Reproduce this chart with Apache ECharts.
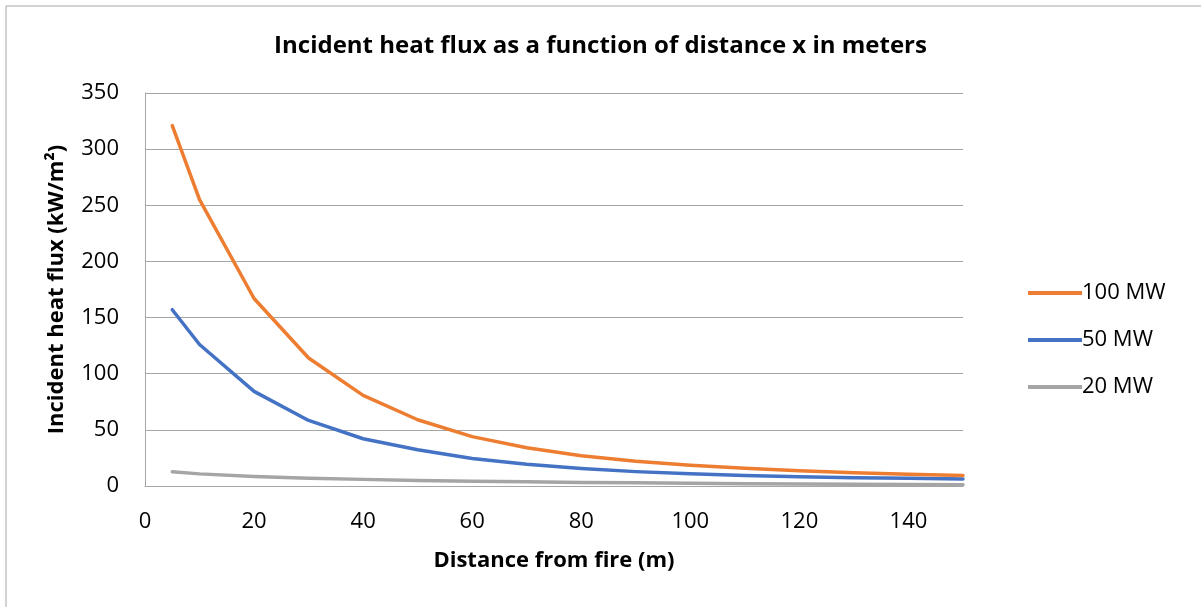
<!DOCTYPE html>
<html>
<head>
<meta charset="utf-8">
<script src="https://cdn.jsdelivr.net/npm/echarts@6/dist/echarts.min.js"></script>
<style>
html,body{margin:0;padding:0;background:#fff;}
#chart{width:1201px;height:607px;}
</style>
</head>
<body>
<div id="chart"></div>
<script>
var distances = [5, 10, 20, 30, 40, 50, 60, 70, 80, 90, 100, 110, 120, 130, 140, 150];
var flux100 = [321, 255, 167, 114, 80.7, 59, 44, 34, 27, 22, 18.4, 15.7, 13.6, 11.8, 10.4, 9.4];
var flux50 = [157, 126, 84.3, 58.4, 42.1, 32.3, 24.5, 19.3, 15.6, 12.8, 10.8, 9.3, 8.3, 7.4, 6.8, 6.2];
var flux20 = [12.6, 10.8, 8.5, 7.0, 5.9, 5.0, 4.3, 3.7, 3.2, 2.8, 2.4, 2.1, 1.8, 1.6, 1.4, 1.2];
var seriesNames = ['100 MW', '50 MW', '20 MW'];
var yTicks = [0, 50, 100, 150, 200, 250, 300, 350];
var xTicks = [0, 20, 40, 60, 80, 100, 120, 140];

function pairs(vals) { return distances.map(function (d, i) { return [d, vals[i]]; }); }

var font = '"Open Sans", "Noto Sans", sans-serif';
var chart = echarts.init(document.getElementById('chart'), null, {renderer: 'canvas'});
var colors = ['#ED7D31', '#4472C4', '#A5A5A5'];
var data = [flux100, flux50, flux20];

chart.setOption({
  animation: false,
  backgroundColor: '#ffffff',
  graphic: [{
    type: 'rect', left: 3.5, top: 3.5,
    shape: {width: 1300, height: 700},
    style: {fill: 'none', stroke: '#a6a6a6', lineWidth: 1}, silent: true
  }],
  title: {
    text: 'Incident heat flux as a function of distance x in meters',
    left: 'center', top: 29,
    textStyle: {fontFamily: font, fontWeight: 'bold', fontSize: 24, color: '#000'}
  },
  legend: {
    orient: 'vertical', left: 1023, top: 277, itemGap: 25,
    itemWidth: 54, itemHeight: 4,
    icon: 'rect',
    textStyle: {fontFamily: font, fontSize: 22, color: '#000', padding: [0,0,0,-5]},
    data: seriesNames
  },
  grid: {left: 145, top: 93, right: 238, bottom: 121, containLabel: false},
  xAxis: {
    type: 'value', min: 0, max: 150, interval: 20,
    name: 'Distance from fire (m)', nameLocation: 'middle', nameGap: 64,
    nameTextStyle: {fontFamily: font, fontWeight: 'bold', fontSize: 22, color: '#000'},
    axisLine: {show: true, lineStyle: {color: '#a6a6a6', width: 1}},
    axisTick: {show: false},
    splitLine: {show: false},
    axisLabel: {
      fontFamily: font, fontSize: 22, color: '#000', margin: 25,
      showMaxLabel: false,
      formatter: function (v) { return xTicks.indexOf(v) >= 0 ? String(v) : ''; }
    }
  },
  yAxis: {
    type: 'value', min: 0, max: 350, interval: 50,
    name: 'Incident heat flux (kW/m²)', nameLocation: 'middle', nameGap: 77,
    nameTextStyle: {fontFamily: font, fontWeight: 'bold', fontSize: 22, color: '#000'},
    axisLine: {show: true, lineStyle: {color: '#a6a6a6', width: 1}},
    axisTick: {show: false},
    splitLine: {show: true, lineStyle: {color: '#a6a6a6', width: 1}},
    axisLabel: {
      fontFamily: font, fontSize: 22, color: '#000', margin: 26,
      formatter: function (v) { return yTicks.indexOf(v) >= 0 ? String(v) : ''; }
    }
  },
  series: seriesNames.map(function (n, i) {
    return {
      name: n, type: 'line', data: pairs(data[i]),
      showSymbol: false, symbol: 'none',
      lineStyle: {color: colors[i], width: 3.5, cap: 'round', join: 'round'},
      itemStyle: {color: colors[i]},
      z: 10 - i
    };
  })
});
</script>
</body>
</html>
